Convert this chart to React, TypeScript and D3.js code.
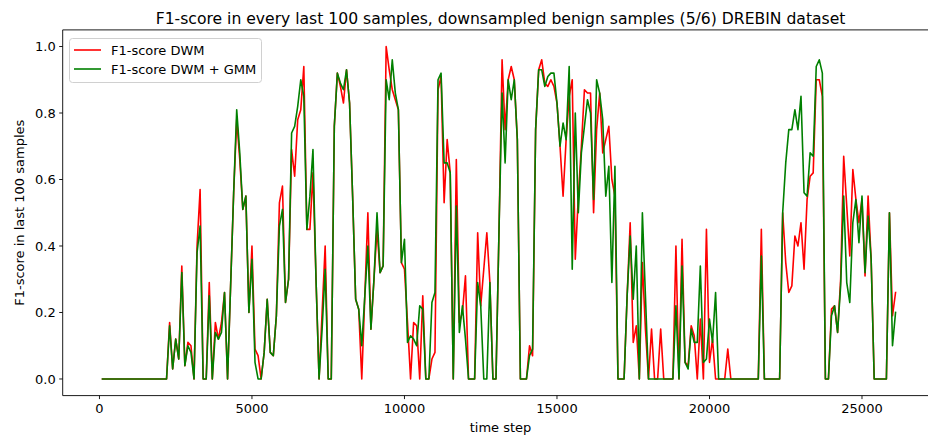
import React from "react";
import * as d3 from "d3";

const TITLE = "F1-score in every last 100 samples, downsampled benign samples (5/6) DREBIN dataset";
const X_LABEL = "time step";
const Y_LABEL = "F1-score in last 100 samples";
const SERIES_NAMES = ["F1-score DWM", "F1-score DWM + GMM"];
const X_TICKS = [0, 5000, 10000, 15000, 20000, 25000];
const Y_TICKS = [0.0, 0.2, 0.4, 0.6, 0.8, 1.0];
const STEP_START = 100;
const STEP_SIZE = 100;

const DWM = [
  0, 0, 0, 0, 0, 0, 0, 0, 0, 0,
  0, 0, 0, 0, 0, 0, 0, 0, 0, 0,
  0, 0, .17, .03, .12, .06, .34, .04, .11, .10,
  0, .40, .57, 0, 0, .29, 0, .17, .12, .17,
  .26, 0, .28, .56, .78, .66, .51, .55, .20, .40,
  .09, .07, 0, .08, .24, .08, .07, .19, .53, .58,
  .23, .30, .69, .61, .78, .81, .94, .45, .45, .62,
  .30, 0, .20, .40, 0, 0, .76, .92, .88, .83,
  .93, .83, .55, .24, .21, 0, .25, .50, .15, .30,
  .45, .32, .34, 1.0, .93, .87, .84, .81, .35, .33,
  .17, 0, .17, .16, 0, .25, 0, 0, .06, .08,
  .87, .91, .53, .72, .62, 0, .66, .17, .20, .31,
  0, 0, 0, .44, .22, .33, .44, .29, 0, 0,
  .45, .96, .75, .90, .94, .90, .72, 0, 0, 0,
  .10, .07, .75, .93, .96, .89, .88, .90, .88, .83,
  .70, .55, .72, .85, .90, .36, .55, .70, .87, .86,
  .86, .50, .75, .86, .68, .72, .76, .60, .55, 0,
  0, 0, .25, .47, .11, .16, 0, .35, .15, 0,
  .15, 0, 0, .15, 0, 0, 0, 0, .40, 0,
  .42, .05, .04, .16, .13, 0, .18, 0, .45, .05,
  .12, 0, 0, 0, 0, .09, 0, 0, 0, 0,
  0, 0, 0, 0, 0, 0, .45, 0, 0, 0,
  0, 0, 0, .50, .35, .26, .28, .43, .40, .47,
  .33, .54, .61, .62, .90, .90, .85, 0, 0, .21,
  .22, .14, .30, .67, .52, .37, .63, .54, .47, .54,
  .31, .55, .36, 0, 0, 0, 0, 0, .50, .19,
  .26,
];

const DWM_GMM = [
  0, 0, 0, 0, 0, 0, 0, 0, 0, 0,
  0, 0, 0, 0, 0, 0, 0, 0, 0, 0,
  0, 0, .16, .03, .12, .06, .32, .04, .10, .08,
  0, .38, .46, 0, 0, .25, 0, .14, .12, .14,
  .26, 0, .28, .56, .81, .68, .51, .55, .20, .36,
  .05, 0, 0, .08, .24, .08, .07, .19, .46, .51,
  .23, .30, .74, .76, .82, .90, .85, .45, .55, .69,
  .30, 0, .15, .33, 0, 0, .76, .92, .89, .87,
  .93, .83, .55, .24, .21, .10, .25, .40, .15, .30,
  .50, .32, .34, .90, .84, .96, .86, .81, .35, .42,
  .11, .13, .12, .10, .22, .21, 0, 0, .23, .26,
  .90, .92, .65, .65, .62, 0, .52, .14, .22, .12,
  0, 0, 0, .29, .22, 0, 0, .29, 0, 0,
  .45, .86, .65, .90, .84, .90, .72, 0, 0, 0,
  .07, .09, .75, .93, .93, .88, .91, .92, .92, .83,
  .70, .77, .72, .94, .33, .80, .50, .68, .76, .84,
  .80, .54, .90, .86, .78, .55, .64, .29, .64, 0,
  0, 0, .25, .43, .24, .40, 0, .50, .25, 0,
  0, 0, 0, 0, 0, 0, 0, 0, .22, 0,
  .34, .05, .03, .15, .11, .11, .34, .05, .06, .18,
  .11, .26, 0, 0, 0, 0, 0, 0, 0, 0,
  0, 0, 0, 0, 0, 0, .37, 0, 0, 0,
  0, 0, 0, .50, .65, .75, .75, .81, .75, .85,
  .56, .55, .68, .67, .94, .96, .92, 0, 0, .19,
  .22, .14, .28, .55, .29, .23, .47, .54, .41, .55,
  .32, .49, .36, 0, 0, 0, 0, 0, .50, .10,
  .20,
];

const COLORS = ["#ff0000", "#008000"];
const FONT = "DejaVu Sans, sans-serif";

export default function App() {
  const W = 928;
  const H = 437;
  const left = 62.7;
  const top = 29.9;
  const bottom = 395.6;
  const right = 938.4;

  const steps = DWM.map((_, i) => STEP_START + i * STEP_SIZE);
  const x = d3.scaleLinear().domain([-1205, 27505]).range([left, right]);
  const y = d3.scaleLinear().domain([-0.05, 1.05]).range([bottom, top]);

  const line = d3
    .line<number>()
    .x((_, i) => x(steps[i]))
    .y((d) => y(d));

  const series = [DWM, DWM_GMM];

  return (
    <svg
      width={W}
      height={H}
      style={{ position: "absolute", left: 0, top: 0, background: "#fff" }}
      fontFamily={FONT}
    >
      <defs>
        <clipPath id="plot">
          <rect x={left} y={top} width={right - left} height={bottom - top} />
        </clipPath>
      </defs>
      <rect x={0} y={0} width={W} height={H} fill="#fff" />

      <g clipPath="url(#plot)">
        {series.map((s, k) => (
          <path
            key={k}
            d={line(s) || ""}
            fill="none"
            stroke={COLORS[k]}
            strokeWidth={1.6}
            strokeLinejoin="round"
            strokeLinecap="square"
          />
        ))}
      </g>

      {/* spines */}
      <line x1={left} x2={left} y1={top} y2={bottom} stroke="#000" strokeWidth={0.9} />
      <line x1={left} x2={W} y1={bottom} y2={bottom} stroke="#000" strokeWidth={0.9} />
      <line x1={left} x2={W} y1={top} y2={top} stroke="#000" strokeWidth={0.9} />

      {/* x ticks */}
      {X_TICKS.map((t) => (
        <g key={t} transform={`translate(${x(t)},${bottom})`}>
          <line y1={0} y2={3.5} stroke="#000" strokeWidth={0.9} />
          <text y={17} textAnchor="middle" fontSize={13} fill="#000">
            {t}
          </text>
        </g>
      ))}
      {/* y ticks */}
      {Y_TICKS.map((t) => (
        <g key={t} transform={`translate(${left},${y(t)})`}>
          <line x1={0} x2={-3.5} stroke="#000" strokeWidth={0.9} />
          <text x={-7} dy="0.35em" textAnchor="end" fontSize={13} fill="#000">
            {t.toFixed(1)}
          </text>
        </g>
      ))}

      <text x={(left + right) / 2} y={24} textAnchor="middle" fontSize={15.6} fill="#000">
        {TITLE}
      </text>
      <text x={(left + right) / 2} y={432} textAnchor="middle" fontSize={13} fill="#000">
        {X_LABEL}
      </text>
      <text
        transform={`translate(24,${(top + bottom) / 2}) rotate(-90)`}
        textAnchor="middle"
        fontSize={13}
        fill="#000"
      >
        {Y_LABEL}
      </text>

      {/* legend */}
      <g>
        <rect
          x={69.5}
          y={38.5}
          width={192}
          height={44}
          rx={3}
          fill="#fff"
          fillOpacity={0.8}
          stroke="#d0d0d0"
          strokeWidth={1}
        />
        {SERIES_NAMES.map((name, k) => (
          <g key={name} transform={`translate(74,${50 + k * 19})`}>
            <line x1={0} x2={27} y1={0} y2={0} stroke={COLORS[k]} strokeWidth={1.6} />
            <text x={37} dy="0.35em" fontSize={13} fill="#000">
              {name}
            </text>
          </g>
        ))}
      </g>
    </svg>
  );
}
